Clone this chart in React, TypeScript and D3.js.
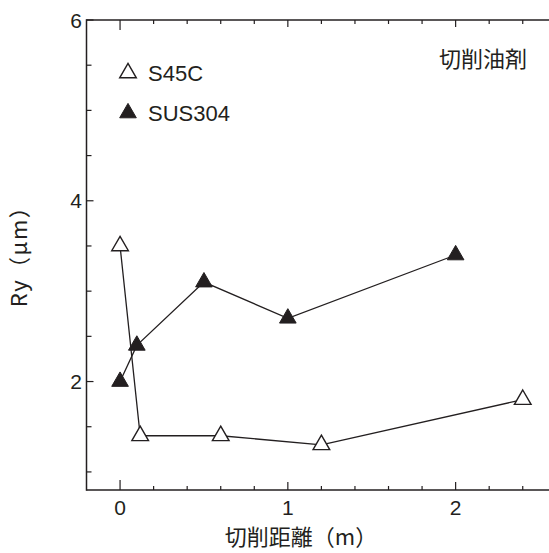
import React from "react";
import * as d3 from "d3";

// S45C (open triangles)
const s45cX = [0, 0.12, 0.6, 1.2, 2.4];
const s45cY = [3.5, 1.4, 1.4, 1.3, 1.8];
// SUS304 (filled triangles)
const susX = [0, 0.1, 0.5, 1.0, 2.0];
const susY = [2.0, 2.4, 3.1, 2.7, 3.4];

const xMajor = [0, 1, 2];
const xMinor = [0.2, 0.4, 0.6, 0.8, 1.2, 1.4, 1.6, 1.8, 2.2, 2.4];
const yMajor = [2, 4, 6];
const yMinor = [1, 1.5, 2.5, 3, 3.5, 4.5, 5, 5.5];

const legendNames = ["S45C", "SUS304"];
const noteLabel = "切削油剤";
const xTitle = "切削距離（m）";
const yTitle = "Ry（μm）";

const ink = "#231f20";
const latin = "Liberation Sans, Arial, sans-serif";
const cjk = "'Noto Sans CJK JP', 'Noto Sans', sans-serif";

export default function App() {
  const width = 549,
    height = 553;

  const x = d3.scaleLinear().domain([-0.2, 2.6]).range([86.5, 556.3]);
  const y = d3.scaleLinear().domain([0.8, 6]).range([490, 20]);

  const line = d3
    .line<[number, number]>()
    .x((d) => x(d[0]))
    .y((d) => y(d[1]));

  const s45c: [number, number][] = s45cX.map((v, i) => [v, s45cY[i]]);
  const sus: [number, number][] = susX.map((v, i) => [v, susY[i]]);

  const tri = d3.symbol().type(d3.symbolTriangle).size(120)();

  const left = x(-0.2),
    right = width,
    top = y(6),
    bottom = y(0.8);

  return (
    <div style={{ position: "absolute", left: 0, top: 0 }}>
      <svg width={width} height={height} style={{ display: "block", background: "#fff" }}>
        {/* frame */}
        <g stroke={ink} strokeWidth={1.5} fill="none">
          <line x1={left} x2={right} y1={top} y2={top} />
          <line x1={left} x2={right} y1={bottom} y2={bottom} />
          <line x1={left} x2={left} y1={top - 0.75} y2={bottom + 0.75} />
        </g>

        {/* ticks pointing inward */}
        <g stroke={ink} strokeWidth={1.2}>
          {xMajor.map((t) => (
            <g key={"xm" + t}>
              <line x1={x(t)} x2={x(t)} y1={bottom} y2={bottom - (t === 0 ? 10 : 8)} />
              <line x1={x(t)} x2={x(t)} y1={top} y2={top + (t === 0 ? 10 : 7)} />
            </g>
          ))}
          {xMinor.map((t) => (
            <g key={"xn" + t}>
              <line x1={x(t)} x2={x(t)} y1={bottom} y2={bottom - 4} />
              <line x1={x(t)} x2={x(t)} y1={top} y2={top + 4} />
            </g>
          ))}
          {yMajor.map((t) => (
            <line key={"ym" + t} x1={left} x2={left + 7} y1={y(t)} y2={y(t)} />
          ))}
          {yMinor.map((t) => (
            <line key={"yn" + t} x1={left} x2={left + 5} y1={y(t)} y2={y(t)} />
          ))}
        </g>

        {/* tick labels */}
        <g fill={ink} fontFamily={latin} fontSize={21}>
          {xMajor.map((t) => (
            <text key={"xl" + t} x={x(t)} y={515} textAnchor="middle">
              {t}
            </text>
          ))}
          {yMajor.map((t) => (
            <text key={"yl" + t} x={82} y={y(t) + 7.5} textAnchor="end">
              {t}
            </text>
          ))}
        </g>

        {/* axis titles */}
        <text x={301} y={545} textAnchor="middle" fontFamily={cjk} fontSize={22} fill={ink}>
          {xTitle}
        </text>
        <text
          transform="translate(27,251) rotate(-90)"
          textAnchor="middle"
          fontFamily={cjk}
          fontSize={22}
          letterSpacing={1.5}
          fill={ink}
        >
          {yTitle}
        </text>

        {/* series lines */}
        <path d={line(s45c) || ""} fill="none" stroke={ink} strokeWidth={1.3} />
        <path d={line(sus) || ""} fill="none" stroke={ink} strokeWidth={1.3} />

        {/* markers */}
        {s45c.map((d, i) => (
          <path
            key={"a" + i}
            d={tri || ""}
            transform={`translate(${x(d[0])},${y(d[1])})`}
            fill="#fff"
            stroke={ink}
            strokeWidth={1.4}
          />
        ))}
        {sus.map((d, i) => (
          <path
            key={"b" + i}
            d={tri || ""}
            transform={`translate(${x(d[0])},${y(d[1])})`}
            fill={ink}
            stroke={ink}
            strokeWidth={1}
          />
        ))}

        {/* legend */}
        <path d={tri || ""} transform="translate(128,73)" fill="#fff" stroke={ink} strokeWidth={1.4} />
        <path d={tri || ""} transform="translate(128,113)" fill={ink} stroke={ink} strokeWidth={1} />
        <g fontFamily={latin} fontSize={22} fill={ink}>
          <text x={148} y={81}>
            {legendNames[0]}
          </text>
          <text x={148} y={121}>
            {legendNames[1]}
          </text>
        </g>

        {/* condition note */}
        <text x={527} y={67} textAnchor="end" fontFamily={cjk} fontSize={22} fill={ink}>
          {noteLabel}
        </text>
      </svg>
    </div>
  );
}
